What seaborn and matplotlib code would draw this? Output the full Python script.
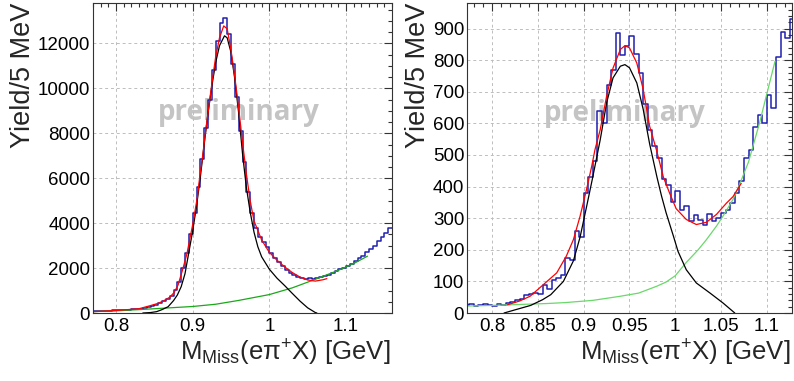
import numpy as np
import pandas as pd
import matplotlib
matplotlib.use("Agg")
import matplotlib.pyplot as plt
import seaborn as sns
from matplotlib.ticker import MultipleLocator, FuncFormatter

sns.set_theme(style="white")
plt.rcParams["font.family"] = ["Liberation Sans", "DejaVu Sans"]
plt.rcParams["mathtext.fontset"] = "custom"
plt.rcParams["mathtext.rm"] = "Liberation Sans"
plt.rcParams["mathtext.it"] = "Liberation Sans:italic"

# ---------------- data: left panel (5 MeV bins from 0.770 to 1.160 GeV) ----------------
left_edges = np.round(np.arange(0.77, 1.16 + 1e-9, 0.005), 4)
left_counts = [90, 95, 100, 110, 105, 120, 125, 130, 140, 150,
               160, 175, 195, 220, 260, 310, 370, 440, 520, 620,
               760, 1020, 1400, 2000, 2650, 3500, 4450, 5600, 6850, 8250,
               9500, 10800, 12100, 12900, 13150, 12400, 11100, 9600, 8100, 6700,
               5400, 4450, 3800, 3380, 3150, 2950, 2650, 2450, 2250, 2080,
               1920, 1790, 1690, 1610, 1580, 1530, 1560, 1520, 1580, 1600,
               1650, 1700, 1780, 1850, 1950, 2000, 2100, 2180, 2300, 2450,
               2550, 2700, 2850, 3000, 3200, 3400, 3550, 3800]

left_sig_x = [0.835, 0.845, 0.853, 0.86, 0.868, 0.875, 0.88, 0.885, 0.89, 0.895, 0.9, 0.905,
              0.91, 0.915, 0.92, 0.925, 0.93, 0.935, 0.9415, 0.945, 0.95, 0.955, 0.96, 0.965,
              0.97, 0.975, 0.98, 0.985, 0.99, 1.0, 1.01, 1.02, 1.03, 1.04, 1.05, 1.06, 1.062]
left_sig_y = [0, 20, 60, 150, 280, 550, 800, 1170, 1750, 2700, 3650, 4750,
              6050, 7500, 8900, 10100, 11150, 11900, 12340, 12250, 11600, 10400, 8900, 7100,
              5600, 4500, 3600, 2950, 2500, 1950, 1550, 1220, 870, 530, 230, 20, 0]

left_bkg_x = [0.77, 0.8, 0.83, 0.86, 0.9, 0.93, 0.96, 1.0, 1.03, 1.06, 1.09, 1.11, 1.128]
left_bkg_y = [60, 100, 150, 210, 290, 390, 560, 820, 1120, 1500, 1900, 2200, 2530]

left_tot_x = [0.77, 0.8, 0.83, 0.845, 0.855, 0.862, 0.87, 0.876, 0.881, 0.8875, 0.8926,
              0.9004, 0.9061, 0.909, 0.9134, 0.9165, 0.92, 0.925, 0.93, 0.935, 0.9405,
              0.945, 0.95, 0.955, 0.96, 0.965, 0.97, 0.975, 0.98, 0.99, 1.0, 1.01, 1.02,
              1.03, 1.04, 1.05, 1.06, 1.07, 1.075]
left_tot_y = [60, 110, 190, 330, 430, 540, 700, 920, 1250, 2000, 2650,
              4000, 5150, 6000, 7090, 8000, 8900, 10200, 11400, 12250, 12780,
              12650, 11700, 10500, 9100, 7600, 6200, 5000, 4100, 3250, 2700, 2350, 2050,
              1800, 1600, 1470, 1420, 1480, 1530]

# ---------------- data: right panel (5 MeV bins from 0.770 to 1.130 GeV) ----------------
right_edges = np.round(np.arange(0.77, 1.13 + 1e-9, 0.005), 4)
right_counts = [25, 28, 22, 25, 30, 24, 22, 30, 26, 32,
                36, 42, 44, 58, 60, 63, 60, 88, 76, 105,
                111, 121, 174, 169, 259, 240, 380, 430, 480, 640,
                600, 720, 770, 885, 815, 844, 876, 820, 760, 660,
                580, 528, 490, 425, 405, 350, 385, 325, 340, 290,
                310, 295, 280, 312, 290, 300, 317, 327, 348, 380,
                417, 490, 515, 590, 625, 600, 690, 650, 810, 890,
                870, 930]

right_sig_x = [0.813, 0.825, 0.842, 0.855, 0.864, 0.8778, 0.8887, 0.896, 0.903, 0.9095,
               0.918, 0.925, 0.932, 0.94, 0.945, 0.95, 0.958, 0.965, 0.972, 0.98, 0.985,
               0.99, 0.998, 1.003, 1.012, 1.023, 1.038, 1.052, 1.065]
right_sig_y = [0, 10, 24, 42, 58, 100, 165, 240, 335, 425,
               548, 665, 744, 781, 786, 776, 728, 644, 535, 430, 370,
               317, 243, 195, 137, 95, 63, 32, 0]

right_bkg_x = [0.7725, 0.8, 0.83, 0.86, 0.88, 0.91, 0.94, 0.96, 0.98, 0.99, 1.0, 1.012,
               1.025, 1.034, 1.045, 1.052, 1.063, 1.07, 1.08, 1.092, 1.103, 1.109]
right_bkg_y = [22, 24, 27, 30, 33, 40, 53, 63, 85, 98, 118, 160,
               200, 232, 275, 306, 359, 405, 478, 601, 728, 797]

right_tot_x = [0.8167, 0.83, 0.8414, 0.856, 0.8705, 0.881, 0.8887, 0.896, 0.903, 0.9087,
               0.9123, 0.918, 0.925, 0.932, 0.94, 0.945, 0.95, 0.958, 0.965, 0.972, 0.98,
               0.987, 0.994, 1.001, 1.012, 1.023, 1.034, 1.045, 1.056, 1.063, 1.072]
right_tot_y = [26, 38, 53, 90, 127, 180, 232, 306, 390, 464,
               517, 580, 686, 775, 834, 846, 839, 791, 707, 591, 510,
               430, 378, 330, 296, 280, 287, 312, 348, 368, 410]

x_label = r"M$_{\mathrm{Miss}}$(eπ$^{+}$X) [GeV]"
y_label = "Yield/5 MeV"
watermark = "preliminary"

# ---------------- figure ----------------
fig = plt.figure(figsize=(7.94, 3.81), dpi=100)
axL = fig.add_axes([93 / 794, 1 - 313 / 381, 299 / 794, 310 / 381])
axR = fig.add_axes([467 / 794, 1 - 313 / 381, 325 / 794, 310 / 381])

fmt = FuncFormatter(lambda v, p: "%g" % round(v, 4))


def draw(ax, edges, counts, sx, sy, bx, by, tx, ty, bkg_color):
    centers = (edges[:-1] + edges[1:]) / 2
    hist_df = pd.DataFrame({"mass": centers, "yield": counts})
    sns.histplot(data=hist_df, x="mass", weights="yield", bins=[float(e) for e in edges],
                 element="step", fill=False, color="#1f1fb0", linewidth=1.1, ax=ax)
    sns.lineplot(x=bx, y=by, color=bkg_color, linewidth=0.9, ax=ax)
    sns.lineplot(x=sx, y=sy, color="black", linewidth=0.9, ax=ax)
    sns.lineplot(x=tx, y=ty, color="#ff0000", linewidth=0.9, ax=ax)


draw(axL, left_edges, left_counts, left_sig_x, left_sig_y, left_bkg_x, left_bkg_y,
     left_tot_x, left_tot_y, "#1aa81a")
draw(axR, right_edges, right_counts, right_sig_x, right_sig_y, right_bkg_x, right_bkg_y,
     right_tot_x, right_tot_y, "#6ad86a")

axL.set_xlim(0.77, 1.16)
axL.set_ylim(0, 13800)
axL.xaxis.set_major_locator(MultipleLocator(0.1))
axL.xaxis.set_minor_locator(MultipleLocator(0.01))
axL.yaxis.set_major_locator(MultipleLocator(2000))
axL.yaxis.set_minor_locator(MultipleLocator(500))

axR.set_xlim(0.7725, 1.1275)
axR.set_ylim(0, 981)
axR.xaxis.set_major_locator(MultipleLocator(0.05))
axR.xaxis.set_minor_locator(MultipleLocator(0.01))
axR.yaxis.set_major_locator(MultipleLocator(100))
axR.yaxis.set_minor_locator(MultipleLocator(20))

for ax, ylx, wx, wy in [(axL, -0.19, 0.487, 0.647), (axR, -0.11, 0.486, 0.643)]:
    ax.xaxis.set_major_formatter(fmt)
    ax.yaxis.set_major_formatter(fmt)
    ax.set_axisbelow(True)
    ax.grid(True, which="major", linestyle=(0, (3, 3)), color="#bdbdbd", linewidth=0.7)
    ax.tick_params(which="both", direction="in", top=True, right=True, colors="#333333",
                   labelcolor="black", width=0.8)
    ax.tick_params(which="major", length=5.5, labelsize=13.5)
    ax.tick_params(axis="x", which="major", pad=3.5)
    ax.tick_params(axis="y", which="major", pad=2)
    ax.tick_params(which="minor", length=2.8)
    for s in ax.spines.values():
        s.set_color("#333333")
        s.set_linewidth(0.8)
    ax.set_xlabel(x_label, fontsize=18.5, loc="right")
    ax.set_ylabel(y_label, fontsize=19.5, loc="top")
    ax.xaxis.set_label_coords(0.995, -0.08)
    ax.yaxis.set_label_coords(ylx, 1.0)
    ax.text(wx, wy, watermark, transform=ax.transAxes, ha="center", va="center",
            fontsize=20, fontweight="bold", color="#c4c4c4", family="Open Sans", zorder=0.5)

fig.savefig("out.png", dpi=100)
